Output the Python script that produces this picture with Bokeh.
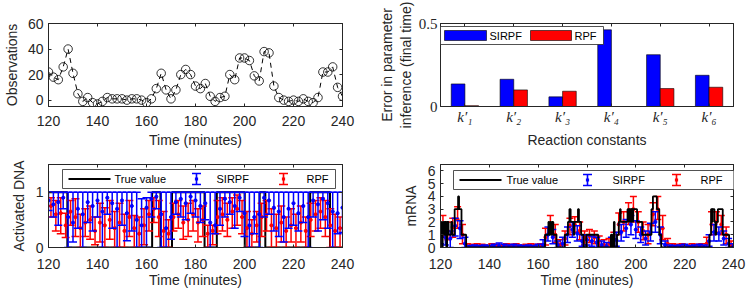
from bokeh.plotting import figure
from bokeh.models import (Range1d, LinearAxis, FixedTicker, CustomJSTickFormatter,
                          BoxAnnotation, Label, ColumnDataSource)
from bokeh.transform import dodge
from bokeh.layouts import gridplot
from bokeh.embed import file_html
from bokeh.resources import INLINE

# ---------------- data ----------------
obs_t = list(range(120, 241, 2))
obs = [22, 18, 16, 26, 40, 21, 5, -1, 2, -2, -3, -1, 2, 1, 1, 1, 0, 1, 1, 0,
       -2, 1, 9, 21, 8, 1, 8, 20, 24, 20, 11, 9, 13, 3, -1, 2, 3, 20, 16, 33,
       33, 31, 19, 15, 38, 37, 11, 2, 0, -1, 0, -1, 1, -1, -2, 2, 22, 22, 26, 10, 3]

params = ["k\u2032\u2081", "k\u2032\u2082", "k\u2032\u2083", "k\u2032\u2084", "k\u2032\u2085", "k\u2032\u2086"]
err_sirpf = [0.136, 0.164, 0.058, 0.462, 0.312, 0.188]
err_rpf = [0.005, 0.100, 0.092, 0.0, 0.108, 0.116]

# Activated DNA
dna_true_t = [120, 127.7, 162.3, 165.7, 170.4, 183.7, 188.7, 200.1, 206.2, 208.5, 226.8, 234.9, 240]
dna_true_v = [1, 0, 1, 0, 1, 0, 1, 0, 1, 0, 1, 0, 0]

sir_t = list(range(120, 241, 2))
dna_sir_mean = [0.85, 0.78, 0.82, 0.90, 0.55, 0.45, 0.70, 0.60, 0.82, 0.75,
                0.85, 0.65, 0.90, 0.80, 0.70, 0.85, 0.62, 0.75, 0.50, 0.40,
                0.72, 0.88, 0.92, 0.60, 0.35, 0.55, 0.82, 0.88, 0.80, 0.92,
                0.85, 0.75, 0.80, 0.45, 0.40, 0.70, 0.88, 0.82, 0.75, 0.90,
                0.62, 0.40, 0.55, 0.60, 0.90, 0.85, 0.72, 0.65, 0.55, 0.70,
                0.80, 0.62, 0.75, 0.55, 0.85, 0.78, 0.88, 0.80, 0.65, 0.62, 0.72]
dna_sir_low = [0.67, 0.55, 0.40, 0.70, 0.00, 0.10, 0.35, 0.00, 0.45, 0.30,
               0.55, 0.00, 0.60, 0.35, 0.00, 0.40, 0.12, 0.30, 0.00, 0.00,
               0.00, 0.55, 0.70, 0.00, 0.00, 0.15, 0.60, 0.55, 0.50, 0.62,
               0.55, 0.45, 0.50, 0.00, 0.25, 0.40, 0.55, 0.60, 0.35, 0.65,
               0.20, 0.00, 0.25, 0.00, 0.55, 0.60, 0.30, 0.20, 0.10, 0.35,
               0.40, 0.30, 0.45, 0.00, 0.55, 0.30, 0.50, 0.35, 0.00, 0.25, 0.27]
dna_sir_high = [1.0, 1.0, 1.0, 1.0, 1.0, 1.0, 1.0, 1.0, 1.0, 1.0,
                1.0, 1.0, 1.0, 1.0, 1.0, 1.0, 1.0, 1.0, 1.0, 0.88,
                0.90, 1.0, 1.0, 1.0, 1.0, 1.0, 1.0, 1.0, 1.0, 1.0,
                1.0, 1.0, 1.0, 1.0, 1.0, 1.0, 1.0, 1.0, 1.0, 1.0,
                1.0, 1.0, 1.0, 1.0, 1.0, 1.0, 1.0, 1.0, 1.0, 1.0,
                1.0, 1.0, 1.0, 1.0, 1.0, 1.0, 1.0, 1.0, 1.0, 1.0, 1.0]

rpf_t = list(range(121, 240, 2))
dna_rpf_mean = [0.75, 0.60, 0.62, 0.40, 0.65, 0.55, 0.35, 0.45, 0.50, 0.30,
                0.45, 0.40, 0.50, 0.35, 0.45, 0.30, 0.55, 0.35, 0.25, 0.40,
                0.60, 0.70, 0.55, 0.30, 0.25, 0.55, 0.60, 0.45, 0.50, 0.60,
                0.45, 0.50, 0.25, 0.30, 0.55, 0.60, 0.50, 0.65, 0.70, 0.55,
                0.35, 0.25, 0.40, 0.55, 0.60, 0.40, 0.35, 0.45, 0.30, 0.40,
                0.35, 0.45, 0.30, 0.50, 0.60, 0.65, 0.55, 0.40, 0.30, 0.35]
dna_rpf_low = [0.55, 0.30, 0.25, 0.18, 0.40, 0.20, 0.00, 0.20, 0.15, 0.05,
               0.10, 0.00, 0.15, 0.00, 0.00, 0.00, 0.20, 0.00, 0.00, 0.05,
               0.30, 0.45, 0.20, 0.00, 0.00, 0.30, 0.35, 0.15, 0.20, 0.30,
               0.10, 0.20, 0.00, 0.05, 0.25, 0.30, 0.20, 0.35, 0.40, 0.25,
               0.00, 0.00, 0.10, 0.20, 0.30, 0.00, 0.00, 0.10, 0.00, 0.10,
               0.00, 0.10, 0.00, 0.20, 0.30, 0.35, 0.20, 0.00, 0.00, 0.00]
dna_rpf_high = [0.90, 0.85, 0.90, 0.62, 0.85, 0.88, 0.60, 0.70, 0.75, 0.55,
                0.80, 0.72, 0.85, 0.65, 0.80, 0.60, 0.85, 0.58, 0.55, 0.70,
                0.85, 0.90, 0.85, 0.65, 0.50, 0.80, 0.85, 0.75, 0.80, 0.85,
                0.70, 0.75, 0.40, 0.40, 0.85, 0.90, 0.80, 0.90, 0.95, 0.85,
                0.65, 0.50, 0.65, 0.80, 0.85, 0.70, 0.60, 0.75, 0.55, 0.70,
                0.60, 0.75, 0.55, 0.80, 0.85, 0.90, 0.85, 0.70, 0.60, 0.55]

# mRNA
mrna_true_t = [120.0, 120.3, 120.6, 120.9, 121.5, 121.9, 122.4, 122.7, 123.3, 124.4,
               124.8, 125.8, 127.2, 127.6, 128.6, 130.5, 162.8, 164.2, 164.6, 164.9,
               165.3, 165.6, 166.2, 167.5, 170.9, 172.2, 172.8, 173.3, 174.5, 174.8,
               176.3, 176.7, 177.6, 178.6, 179.7, 184.6, 189.8, 190.4, 191.0, 191.3,
               192.3, 193.0, 193.5, 193.8, 196.6, 197.3, 197.5, 198.0, 198.2, 198.7,
               198.9, 200.5, 202.6, 206.4, 207.0, 208.6, 209.6, 210.4, 230.2, 230.8,
               231.2, 231.4, 232.2, 232.6, 232.9, 233.6, 235.6, 238.2, 240.0]
mrna_true_v = [1, 2, 0, 2, 1, 2, 0, 2, 1, 2,
               1, 3, 4, 3, 1, 0, 1, 2, 1, 2,
               1, 2, 1, 0, 1, 2, 3, 2, 1, 2,
               3, 2, 1, 0, 1, 0, 1, 0, 2, 0,
               1, 2, 3, 2, 3, 2, 3, 2, 3, 2,
               3, 2, 1, 3, 4, 3, 1, 0, 1, 3,
               2, 3, 2, 1, 2, 3, 1, 0, 0]

mrna_sir_mean = [1.0, 0.8, 0.7, 1.7, 1.5, 0.3, 0.05, 0.05, 0.05, 0.05,
                 0.05, 0.08, 0.10, 0.08, 0.05, 0.08, 0.05, 0.05, 0.05, 0.05,
                 0.08, 0.20, 1.00, 0.80, 0.20, 0.30, 1.00, 1.40, 1.10, 0.50,
                 0.60, 0.50, 0.40, 0.20, 0.10, 0.30, 0.60, 1.20, 1.50, 1.80,
                 1.40, 1.00, 0.70, 1.20, 2.00, 1.00, 0.20, 0.05, 0.05, 0.05,
                 0.08, 0.05, 0.05, 0.08, 0.05, 0.50, 1.20, 1.10, 0.70, 0.30, 0.10]
mrna_sir_low = [0.3, 0.2, 0.0, 0.9, 0.7, 0.0, 0.0, 0.0, 0.0, 0.0,
                0.0, 0.0, 0.0, 0.0, 0.0, 0.0, 0.0, 0.0, 0.0, 0.0,
                0.0, 0.0, 0.5, 0.3, 0.0, 0.0, 0.4, 0.8, 0.5, 0.1,
                0.2, 0.1, 0.0, 0.0, 0.0, 0.0, 0.1, 0.5, 0.8, 1.0,
                0.7, 0.4, 0.2, 0.5, 1.2, 0.3, 0.0, 0.0, 0.0, 0.0,
                0.0, 0.0, 0.0, 0.0, 0.0, 0.1, 0.5, 0.5, 0.2, 0.0, 0.0]
mrna_sir_high = [1.8, 1.5, 1.3, 2.3, 2.1, 0.8, 0.15, 0.20, 0.15, 0.20,
                 0.15, 0.25, 0.35, 0.25, 0.20, 0.25, 0.20, 0.15, 0.20, 0.15,
                 0.25, 0.60, 1.6, 1.4, 0.5, 0.8, 1.6, 2.0, 1.7, 1.0,
                 1.0, 0.9, 0.8, 0.5, 0.4, 0.8, 1.2, 1.8, 2.2, 2.5,
                 2.1, 1.6, 1.3, 1.9, 2.8, 1.6, 0.5, 0.20, 0.15, 0.20,
                 0.25, 0.15, 0.20, 0.25, 0.20, 1.0, 1.8, 1.6, 1.3, 0.7, 0.3]

mrna_rpf_mean = [1.5, 1.3, 1.6, 2.2, 1.0, 0.10, 0.08, 0.10, 0.08, 0.05,
                 0.10, 0.08, 0.05, 0.10, 0.08, 0.10, 0.05, 0.08, 0.10, 0.08,
                 0.10, 0.8, 1.8, 1.0, 0.2, 0.7, 1.7, 1.8, 1.3, 0.8,
                 0.9, 0.8, 0.5, 0.2, 0.3, 0.6, 1.8, 2.0, 2.8, 3.0,
                 2.0, 1.3, 1.0, 2.6, 3.0, 1.5, 0.3, 0.10, 0.08, 0.10,
                 0.05, 0.10, 0.08, 0.10, 0.3, 1.8, 2.0, 1.8, 1.0, 0.2]
mrna_rpf_low = [0.8, 0.6, 0.8, 1.5, 0.3, 0.0, 0.0, 0.0, 0.0, 0.0,
                0.0, 0.0, 0.0, 0.0, 0.0, 0.0, 0.0, 0.0, 0.0, 0.0,
                0.0, 0.2, 1.1, 0.4, 0.0, 0.2, 1.0, 1.2, 0.6, 0.2,
                0.4, 0.3, 0.1, 0.0, 0.0, 0.1, 1.0, 1.3, 1.8, 2.0,
                1.2, 0.6, 0.3, 1.7, 2.2, 0.6, 0.0, 0.0, 0.0, 0.0,
                0.0, 0.0, 0.0, 0.0, 0.0, 1.0, 1.2, 1.0, 0.3, 0.0]
mrna_rpf_high = [2.5, 2.0, 2.3, 3.2, 1.8, 0.30, 0.25, 0.30, 0.25, 0.20,
                 0.30, 0.25, 0.20, 0.30, 0.25, 0.30, 0.20, 0.25, 0.30, 0.25,
                 0.30, 1.5, 2.5, 1.8, 0.6, 1.3, 2.3, 2.4, 2.0, 1.3,
                 1.4, 1.3, 0.9, 0.6, 0.7, 1.2, 2.7, 2.8, 3.5, 4.0,
                 2.8, 2.0, 1.8, 3.5, 4.0, 2.5, 0.7, 0.30, 0.25, 0.30,
                 0.20, 0.30, 0.25, 0.30, 0.8, 2.8, 2.8, 2.5, 1.6, 0.5]

time_ticks = [120, 140, 160, 180, 200, 220, 240]

# ---------------- style helpers ----------------
FONT = "Liberation Sans"
SERIF = "Liberation Serif"
AX = "#262626"
BLUE = "#0000ff"
RED = "#ff0000"
BLANK = CustomJSTickFormatter(code="return ''")


def make_fig(w, h, bl, br, bt, bb, xr, yr):
    p = figure(width=w, height=h, x_range=xr, y_range=yr, output_backend="svg",
               toolbar_location=None, min_border_left=bl, min_border_right=br,
               min_border_top=bt, min_border_bottom=bb)
    p.grid.visible = False
    p.outline_line_color = AX
    p.outline_line_width = 1
    p.background_fill_color = "white"
    p.border_fill_color = "white"
    return p


def style_axis(ax, ticks, standoff, label, label_standoff, font=FONT, size="14px", fstyle="normal"):
    ax.ticker = FixedTicker(ticks=ticks)
    ax.major_tick_in = 3
    ax.major_tick_out = 0
    ax.minor_tick_line_color = None
    ax.axis_line_color = AX
    ax.major_tick_line_color = AX
    ax.major_label_text_font = font
    ax.major_label_text_font_size = size
    ax.major_label_text_font_style = fstyle
    ax.major_label_text_color = AX
    ax.major_label_standoff = standoff
    ax.axis_label = label
    ax.axis_label_text_font = FONT
    ax.axis_label_text_font_size = "14px"
    ax.axis_label_text_font_style = "normal"
    ax.axis_label_text_color = AX
    ax.axis_label_standoff = label_standoff


def box_axes(p, xticks, yticks):
    for loc, ticks in (("above", xticks), ("right", yticks)):
        ax = LinearAxis(ticker=FixedTicker(ticks=ticks), formatter=BLANK,
                        major_tick_in=3, major_tick_out=0, minor_tick_in=0, minor_tick_out=0,
                        major_label_standoff=0, axis_line_color=AX, major_tick_line_color=AX,
                        minor_tick_line_color=None, major_label_text_font_size="1px")
        p.add_layout(ax, loc)


def sbox(p, l, r, b, t, fill, line=None, lw=0.0):
    p.add_layout(BoxAnnotation(left=l, right=r, bottom=b, top=t,
                               left_units="screen", right_units="screen",
                               bottom_units="screen", top_units="screen",
                               fill_color=fill, fill_alpha=1.0,
                               line_color=line if line else fill,
                               line_alpha=1.0 if line else 0.0,
                               line_width=lw, line_dash="solid"))


def slabel(p, x, y, text, size="11px"):
    p.add_layout(Label(x=x, y=y, x_units="screen", y_units="screen", text=text,
                       text_baseline="middle", text_align="left", text_font=FONT,
                       text_font_size=size, text_color="#000000"))


def ibeam(p, cx, y0, y1, color, cap=9, lw=1.6):
    sbox(p, cx - lw / 2, cx + lw / 2, y0, y1, color)
    sbox(p, cx - cap / 2, cx + cap / 2, y1 - lw / 2, y1 + lw / 2, color)
    sbox(p, cx - cap / 2, cx + cap / 2, y0 - lw / 2, y0 + lw / 2, color)
    cy = (y0 + y1) / 2
    sbox(p, cx - 1.6, cx + 1.6, cy - 1.6, cy + 1.6, color)


def series_legend(p, bx0, bx1, by0, by1, line_x0, text1_x, b_cx, b_text_x, r_cx, r_text_x):
    cy = (by0 + by1) / 2
    sbox(p, bx0, bx1, by0, by1, "white", AX, 0.8)
    sbox(p, line_x0, line_x0 + 42, cy - 1, cy + 1, "#000000")
    slabel(p, text1_x, cy, "True value")
    ibeam(p, b_cx, cy - 5.5, cy + 5.5, BLUE)
    slabel(p, b_text_x, cy, "SIRPF")
    ibeam(p, r_cx, cy - 5.5, cy + 5.5, RED)
    slabel(p, r_text_x, cy, "RPF")


def errorbars(p, t, mean, low, high, color, cap):
    src = ColumnDataSource(dict(t=t, m=mean, lo=low, hi=high))
    p.segment(x0="t", y0="lo", x1="t", y1="hi", source=src, line_color=color, line_width=1.5)
    p.scatter(x="t", y="lo", source=src, marker="dash", size=cap, line_color=color, line_width=1.5)
    p.scatter(x="t", y="hi", source=src, marker="dash", size=cap, line_color=color, line_width=1.5)
    p.scatter(x="t", y="m", source=src, marker="circle", size=3.2, line_color=color, fill_color=color)


# layout: page starts at (0,0); left column 375 wide, right 372; rows 152 / 140
# ---------------- panel 1: observations ----------------
p1 = make_fig(375, 152, 45, 33, 23, 46, Range1d(120, 240), Range1d(-5, 60))
style_axis(p1.xaxis[0], time_ticks, 9, "Time (minutes)", 3)
style_axis(p1.yaxis[0], [0, 20, 40, 60], 5, "Observations", 5)
box_axes(p1, time_ticks, [0, 20, 40, 60])
p1.line(obs_t, obs, line_color="black", line_width=1, line_dash="5 4")
p1.scatter(obs_t, obs, marker="circle", size=8.5, fill_color=None, line_color="black", line_width=0.8)

# ---------------- panel 2: parameter error bars ----------------
idx = list(range(1, len(params) + 1))
p2 = make_fig(372, 152, 61, 14, 23, 46, Range1d(0.5, len(params) + 0.5), Range1d(0, 0.5))
style_axis(p2.xaxis[0], idx, 2, "Reaction constants", 4, font=SERIF, size="15px", fstyle="italic")
p2.xaxis[0].major_label_overrides = {i: s for i, s in zip(idx, params)}
style_axis(p2.yaxis[0], [0, 0.5], 3, "Error in parameter\ninference (final time)", 2, font=SERIF, size="15px")
box_axes(p2, idx, [0, 0.5])
bsrc = ColumnDataSource(dict(idx=idx, sirpf=err_sirpf, rpf=err_rpf))
p2.vbar(x=dodge("idx", -0.14, range=p2.x_range), top="sirpf", width=0.28, source=bsrc,
        fill_color=BLUE, line_color="black", line_width=0.6)
p2.vbar(x=dodge("idx", 0.14, range=p2.x_range), top="rpf", width=0.28, source=bsrc,
        fill_color=RED, line_color="black", line_width=0.6)
sbox(p2, 0, 163, 62, 80, "white", AX, 0.8)
sbox(p2, 4, 46, 66, 76, BLUE, "#000000", 0.6)
slabel(p2, 49, 71, "SIRPF")
sbox(p2, 90, 131, 66, 76, RED, "#000000", 0.6)
slabel(p2, 134, 71, "RPF")

# ---------------- panel 3: activated DNA ----------------
p3 = make_fig(375, 140, 45, 33, 12, 45, Range1d(120, 240), Range1d(0, 1.5))
style_axis(p3.xaxis[0], time_ticks, 11, "Time (minutes)", 0)
style_axis(p3.yaxis[0], [0, 1], 5, "Activated DNA", 6)
box_axes(p3, time_ticks, [0, 1])
p3.step(dna_true_t, dna_true_v, mode="after", line_color="black", line_width=2)
errorbars(p3, rpf_t, dna_rpf_mean, dna_rpf_low, dna_rpf_high, RED, 8)
errorbars(p3, sir_t, dna_sir_mean, dna_sir_low, dna_sir_high, BLUE, 8)
series_legend(p3, 14, 287, 59, 78, 20, 66, 148, 168, 235, 258)

# ---------------- panel 4: mRNA ----------------
p4 = make_fig(372, 140, 61, 14, 12, 45, Range1d(120, 240), Range1d(0, 6.5))
style_axis(p4.xaxis[0], time_ticks, 11, "Time (minutes)", 0)
style_axis(p4.yaxis[0], [0, 1, 2, 3, 4, 5, 6], 5, "mRNA", 6)
box_axes(p4, time_ticks, [0, 1, 2, 3, 4, 5, 6])
errorbars(p4, rpf_t, mrna_rpf_mean, mrna_rpf_low, mrna_rpf_high, RED, 7)
errorbars(p4, sir_t, mrna_sir_mean, mrna_sir_low, mrna_sir_high, BLUE, 7)
p4.step(mrna_true_t, mrna_true_v, mode="after", line_color="black", line_width=1.8)
series_legend(p4, 13, 296, 58, 77, 19, 66, 147, 172, 236, 260)

grid = gridplot([[p1, p2], [p3, p4]], toolbar_location=None)
open("out.html", "w").write(file_html(grid, INLINE))
